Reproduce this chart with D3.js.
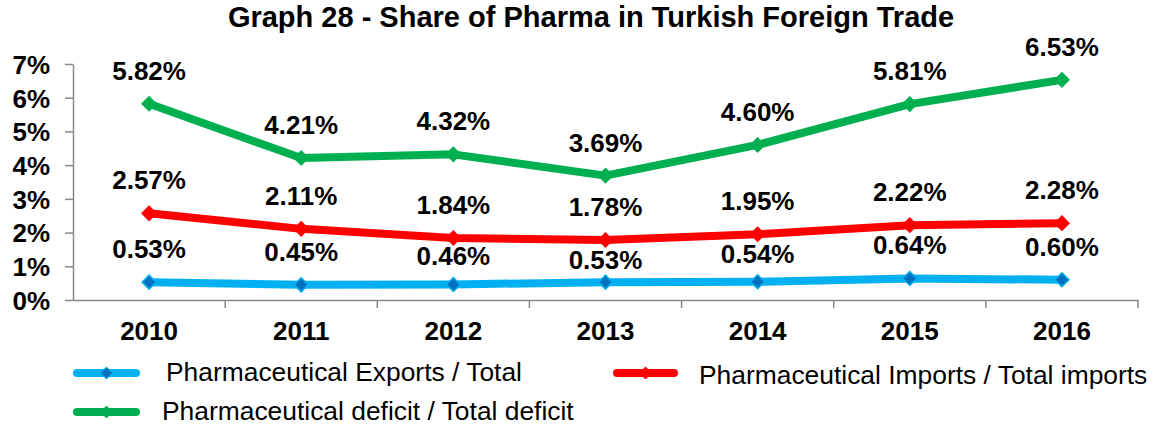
<!DOCTYPE html>
<html>
<head>
<meta charset="utf-8">
<script src="https://cdn.jsdelivr.net/npm/d3@7"></script>
<style>
  html, body { margin: 0; padding: 0; background: #fff; }
  svg { display: block; font-family: Arial, "Liberation Sans", sans-serif; }
</style>
</head>
<body>
<svg id="chart" width="1158" height="426"></svg>
<script>
const title = "Graph 28 - Share of Pharma in Turkish Foreign Trade";
const years = ["2010", "2011", "2012", "2013", "2014", "2015", "2016"];
const exportsShare = [0.53, 0.45, 0.46, 0.53, 0.54, 0.64, 0.60];
const importsShare = [2.57, 2.11, 1.84, 1.78, 1.95, 2.22, 2.28];
const deficitShare = [5.82, 4.21, 4.32, 3.69, 4.60, 5.81, 6.53];
const yTicks = [0, 1, 2, 3, 4, 5, 6, 7];
const seriesNames = ["Pharmaceutical Exports / Total", "Pharmaceutical Imports / Total imports", "Pharmaceutical deficit / Total deficit"];

// label placement nudges (pixels, layout only)
const exportsLabelNudge = [0, 0, 5, 11, 5, 0, 0];
const zeroNudge = [0, 0, 0, 0, 0, 0, 0];

const series = [
  { name: seriesNames[0], values: exportsShare, color: "#00B0F0", marker: "#0070C0", nudge: exportsLabelNudge },
  { name: seriesNames[1], values: importsShare, color: "#FF0000", marker: "#FF0000", nudge: zeroNudge },
  { name: seriesNames[2], values: deficitShare, color: "#00B050", marker: "#00B050", nudge: zeroNudge }
];

const svg = d3.select("#chart");
const plotLeft = 73, plotRight = 1138, plotTop = 64, plotBottom = 300;

const x = d3.scaleBand().domain(years).range([plotLeft, plotRight]).padding(0);
const y = d3.scaleLinear().domain([0, 7]).range([plotBottom, plotTop]);
const axisColor = "#898989";

// title
svg.append("text").attr("x", 591).attr("y", 27)
  .attr("text-anchor", "middle").attr("font-size", 29).attr("font-weight", "bold")
  .attr("fill", "#000").text(title);

// y axis
const yAxis = svg.append("g").attr("transform", `translate(${plotLeft},0)`)
  .call(d3.axisLeft(y).tickValues(yTicks).tickSize(8).tickSizeOuter(0).tickFormat(d => d + "%"));
yAxis.select(".domain").attr("stroke", axisColor).attr("stroke-width", 1.5);
yAxis.selectAll(".tick line").attr("stroke", axisColor).attr("stroke-width", 1.5);
yAxis.selectAll(".tick text").attr("x", -23).attr("dy", "0.36em")
  .attr("font-size", 26).attr("font-weight", "bold").attr("fill", "#000")
  .attr("font-family", "Arial, 'Liberation Sans', sans-serif");

// x axis
const xAxis = svg.append("g").attr("transform", `translate(0,${plotBottom})`)
  .call(d3.axisBottom(x).tickSize(0).tickSizeOuter(0));
xAxis.select(".domain").attr("stroke", axisColor).attr("stroke-width", 1.5);
xAxis.selectAll(".tick line").remove();
xAxis.selectAll(".tick text").attr("y", 40).attr("dy", 0)
  .attr("font-size", 26).attr("font-weight", "bold").attr("fill", "#000")
  .attr("font-family", "Arial, 'Liberation Sans', sans-serif");
// category boundary ticks
const boundaries = years.map(d => x(d)).concat([x(years[years.length - 1]) + x.bandwidth()]).slice(1);
svg.append("g").selectAll("line").data(boundaries).join("line")
  .attr("x1", d => d).attr("x2", d => d)
  .attr("y1", plotBottom).attr("y2", plotBottom + 8)
  .attr("stroke", axisColor).attr("stroke-width", 1.5);

const cx = d => x(d) + x.bandwidth() / 2;
const diamond = (r) => `M0,${-r}L${r},0L0,${r}L${-r},0Z`;

const line = d3.line().x((d, i) => cx(years[i])).y(d => y(d));

const linesLayer = svg.append("g");
const labelsLayer = svg.append("g");

series.forEach(s => {
  linesLayer.append("path").datum(s.values)
    .attr("d", line).attr("fill", "none")
    .attr("stroke", s.color).attr("stroke-width", 8)
    .attr("stroke-linejoin", "round").attr("stroke-linecap", "butt");
  linesLayer.append("g").selectAll("path").data(s.values).join("path")
    .attr("transform", (d, i) => `translate(${cx(years[i])},${y(d)})`)
    .attr("d", diamond(7))
    .attr("fill", s.marker).attr("stroke", s.color).attr("stroke-width", 1.5);
  labelsLayer.append("g").selectAll("text").data(s.values).join("text")
    .attr("x", (d, i) => cx(years[i]))
    .attr("y", (d, i) => y(d) - 24 + s.nudge[i])
    .attr("text-anchor", "middle").attr("font-size", 26).attr("font-weight", "bold")
    .attr("fill", "#000")
    .text(d => d.toFixed(2) + "%");
});

// legend
const legendItems = [
  { s: series[0], x1: 77, x2: 136, ly: 373, tx: 166, ty: 381 },
  { s: series[1], x1: 617, x2: 674, ly: 373, tx: 699, ty: 384 },
  { s: series[2], x1: 77, x2: 136, ly: 412, tx: 162, ty: 420 }
];
legendItems.forEach(it => {
  svg.append("line").attr("x1", it.x1).attr("x2", it.x2)
    .attr("y1", it.ly).attr("y2", it.ly)
    .attr("stroke", it.s.color).attr("stroke-width", 8).attr("stroke-linecap", "round");
  svg.append("path").attr("transform", `translate(${(it.x1 + it.x2) / 2},${it.ly})`)
    .attr("d", diamond(6)).attr("fill", it.s.marker).attr("stroke", it.s.color).attr("stroke-width", 1);
  svg.append("text").attr("x", it.tx).attr("y", it.ty)
    .attr("font-size", 26.4).attr("fill", "#000").text(it.s.name);
});
</script>
</body>
</html>
